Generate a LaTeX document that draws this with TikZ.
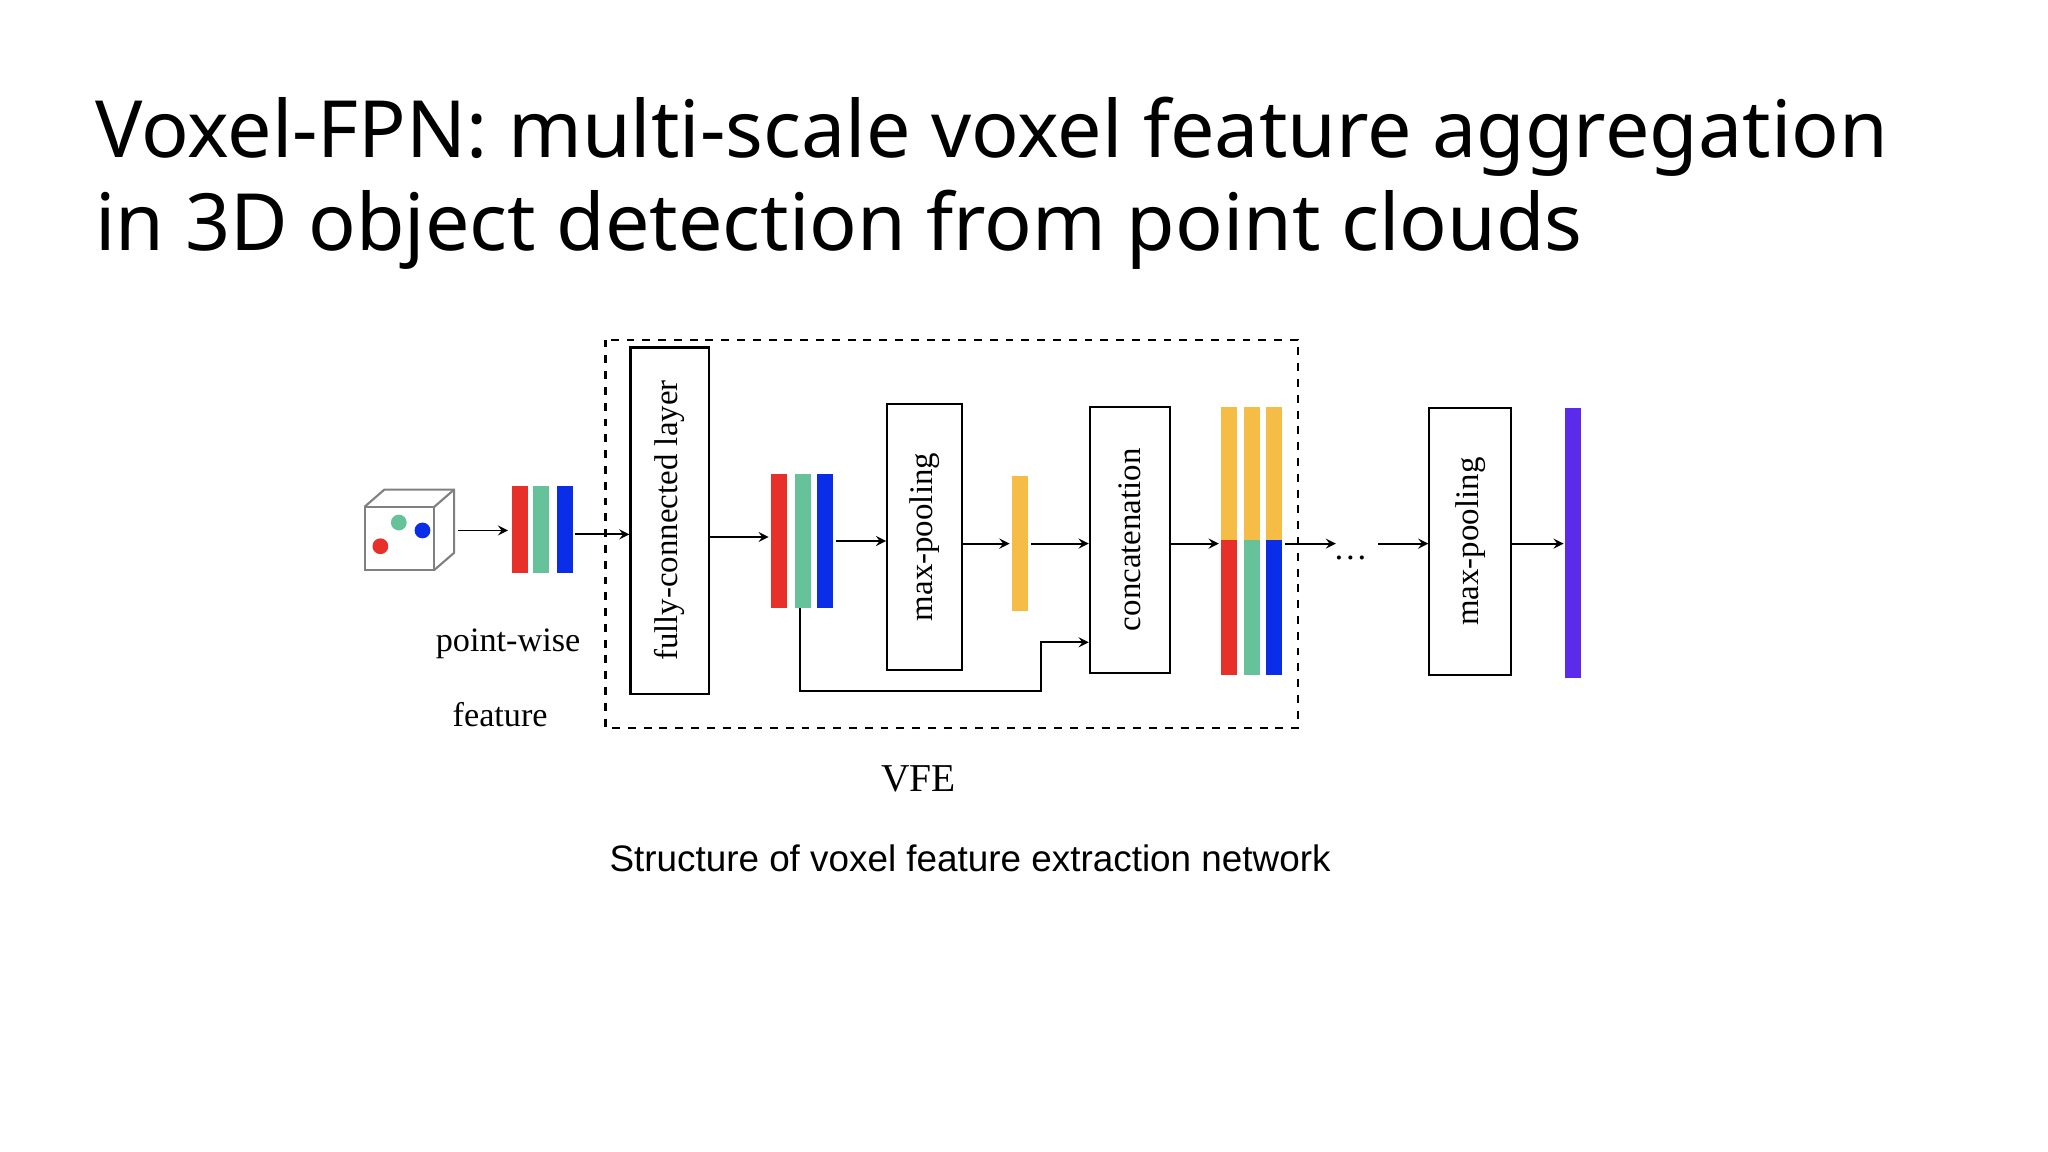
\documentclass[tikz,border=0pt]{standalone}
\usepackage{fontspec}
\setmainfont{Liberation Serif}
\newfontfamily\titlefont{Noto Sans}
\newfontfamily\capfont{Liberation Sans}
\definecolor{cR}{HTML}{E8302A}
\definecolor{cG}{HTML}{66C29A}
\definecolor{cB}{HTML}{0A2EE8}
\definecolor{cY}{HTML}{F5BD45}
\definecolor{cP}{HTML}{5B2BEB}
\begin{document}
\begin{tikzpicture}[x=0.5pt,y=-0.5pt,
  box/.style={draw,line width=0.8pt,inner sep=0pt},
  lbl/.style={rotate=90,font=\fontsize{12.5}{14}\selectfont},
  arr/.style={->,>=stealth,line width=0.7pt},
  bar/.style={inner sep=0pt,minimum width=6pt}]
\useasboundingbox[fill=white] (0,0) rectangle (1556,875);
\node[anchor=base west,font=\titlefont\fontsize{30}{35}\selectfont,inner sep=0pt] (t1) at (72,120) {Voxel-FPN: multi-scale voxel feature aggregation};
\node[anchor=base west,font=\titlefont\fontsize{30}{35}\selectfont,inner sep=0pt] (t2) at (72,190) {in 3D object detection from point clouds};
% cube
\draw[gray,line width=0.8pt] (277,385) rectangle (330,433);
\draw[gray,line width=0.8pt] (277,385) -- (292,372) -- (345,372) -- (345,420) -- (330,433);
\draw[gray,line width=0.8pt] (330,385) -- (345,372);
\fill[cR] (289,415) circle (6);
\fill[cG] (303,397) circle (6);
\fill[cB] (321,403) circle (6);
\coordinate (cube) at (348,403);
% bars 1
\fill[cR] (389,369) rectangle (401,435);
\fill[cG] (405,369) rectangle (417,435);
\fill[cB] (423,369) rectangle (435,435);
\coordinate (b1l) at (386,403);
\coordinate (b1r) at (437,406);
\draw[arr] (cube) -- (b1l);
% dashed
\draw[dashed,line width=0.8pt] (460,258) rectangle (986,553);
\node[box,minimum width=30pt,minimum height=131.5pt] (fc) at (509,395.5) {};
\node[lbl] at (fc) {fully-connected layer};
\draw[arr] (b1r) -- (fc.west |- b1r);
% bars 2
\fill[cR] (586,360) rectangle (598,462);
\fill[cG] (604,360) rectangle (616,462);
\fill[cB] (621,360) rectangle (633,462);
\draw[arr] (fc.east |- 0,408) -- (584,408);
\node[box,minimum width=28.5pt,minimum height=101pt] (mp) at (702.5,408) {};
\node[lbl] at (mp) {max-pooling};
\draw[arr] (635,411) -- (mp.west |- 0,411);
\fill[cY] (769,362) rectangle (781,464);
\draw[arr] (mp.east |- 0,413) -- (767,413);
\node[box,minimum width=30.5pt,minimum height=101pt] (cc) at (858.5,410) {};
\node[lbl] at (cc) {concatenation};
\draw[arr] (783,413) -- (cc.west |- 0,413);
\draw[arr] (608,462) -- (608,525) -- (791,525) -- (791,488) -- (cc.west |- 0,488);
% bars 3
\foreach \x/\c in {928/cR,945/cG,962/cB}{
  \fill[cY] (\x,309) rectangle (\x+12,410);
  \fill[\c] (\x,410) rectangle (\x+12,513);}
\draw[arr] (cc.east |- 0,413) -- (926,413);
\coordinate (d1) at (1015,413);
\draw[arr] (976,413) -- (d1);
\node[font=\fontsize{13}{14}\selectfont] (dots) at (1026,424) {\dots};
\node[box,minimum width=31pt,minimum height=101.5pt] (mp2) at (1117,411.5) {};
\node[lbl] at (mp2) {max-pooling};
\draw[arr] (1047,413) -- (mp2.west |- 0,413);
\fill[cP] (1189,310) rectangle (1201,515);
\draw[arr] (mp2.east |- 0,413) -- (1188,413);
\node[font=\fontsize{13}{14}\selectfont] (pw) at (386,489) {point-wise};
\node[font=\fontsize{13}{14}\selectfont] (ft) at (380,543) {feature};
\node[font=\fontsize{15}{16}\selectfont] (vfe) at (698,592) {VFE};
\node[font=\capfont\fontsize{14}{16}\selectfont] (cap) at (737,652) {Structure of voxel feature extraction network};
\end{tikzpicture}
\end{document}
